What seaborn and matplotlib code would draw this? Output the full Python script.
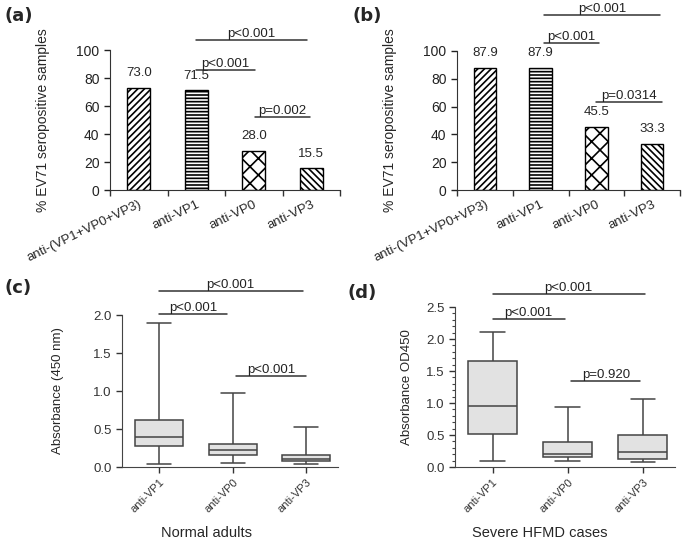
import pandas as pd
import matplotlib
matplotlib.use("Agg")
import matplotlib.pyplot as plt
from matplotlib.ticker import AutoMinorLocator, FixedLocator
import seaborn as sns

# bar panels (a) and (b)
bar_groups = ["anti-(VP1+VP0+VP3)", "anti-VP1", "anti-VP0", "anti-VP3"]
pct_a = [73.0, 71.5, 28.0, 15.5]
pct_b = [87.9, 87.9, 45.5, 33.3]

# box panels (c) and (d): min, q1, median, q3, max
box_groups = ["anti-VP1", "anti-VP0", "anti-VP3"]
adults_vp1 = [0.04, 0.27, 0.40, 0.62, 1.89]
adults_vp0 = [0.05, 0.16, 0.23, 0.30, 0.98]
adults_vp3 = [0.04, 0.08, 0.11, 0.16, 0.53]
severe_vp1 = [0.094, 0.515, 0.96, 1.66, 2.11]
severe_vp0 = [0.09, 0.15, 0.20, 0.386, 0.93]
severe_vp3 = [0.073, 0.13, 0.23, 0.495, 1.07]

sns.set_style("ticks")
plt.rcParams["font.family"] = ["Liberation Sans", "DejaVu Sans"]
plt.rcParams["hatch.linewidth"] = 1.2

fig = plt.figure(figsize=(6.85, 5.44), dpi=100)
W, H = 685, 544


def px_axes(left, right, top, bottom):
    return fig.add_axes([left / W, 1 - bottom / H, (right - left) / W, (bottom - top) / H])


def bracket(ax, x0, x1, y, label):
    ax.plot([x0, x1], [y, y], color="#333333", lw=1.1, clip_on=False)
    ax.text((x0 + x1) / 2, y, label, ha="center", va="bottom", fontsize=9.5,
            color="#222222", clip_on=False)


hatches = ["/////", "-----", "xx", "\\\\\\\\\\"]


def bar_panel(ax, values):
    df = pd.DataFrame({"group": bar_groups, "pct": values})
    sns.barplot(data=df, x="group", y="pct", color="white", edgecolor="black",
                linewidth=1.0, width=0.4, saturation=1, ax=ax)
    for p, h in zip(ax.patches, hatches):
        p.set_hatch(h)
    ax.bar_label(ax.containers[0], fmt="%.1f", padding=6, fontsize=9.5)
    ax.set_ylim(0, 100)
    ax.set_xlim(-0.5, 3.5)
    ax.set_yticks([0, 20, 40, 60, 80, 100])
    ax.tick_params(axis="y", labelsize=10, length=4, width=1, colors="#222222")
    ax.tick_params(axis="x", which="major", length=0, labelsize=9.5, pad=6)
    ax.xaxis.set_minor_locator(FixedLocator([-0.5, 0.5, 1.5, 2.5, 3.5]))
    ax.tick_params(axis="x", which="minor", length=4, width=1, color="#333333")
    for lab in ax.get_xticklabels():
        lab.set_rotation(26)
        lab.set_ha("right")
        lab.set_rotation_mode("anchor")
    ax.set_xlabel("")
    ax.set_ylabel("% EV71 seropositive samples", fontsize=10)
    for s in ["left", "bottom"]:
        ax.spines[s].set_color("#333333")
    sns.despine(ax=ax)


def box_panel(ax, stats, ymax):
    rows = []
    for g, vals in zip(box_groups, stats):
        for v in vals:
            rows.append({"group": g, "value": v})
    df = pd.DataFrame(rows)
    sns.boxplot(data=df, x="group", y="value", whis=(0, 100), width=0.65,
                color="#e2e2e2", linecolor="#444444", linewidth=1.1,
                saturation=1, fliersize=0, ax=ax)
    ax.set_ylim(0, ymax)
    ax.set_xlim(-0.5, 2.43)
    ax.tick_params(axis="y", labelsize=9.5, length=4, width=1, colors="#333333")
    ax.tick_params(axis="x", labelsize=8, length=4, width=1, colors="#333333")
    for lab in ax.get_xticklabels():
        lab.set_rotation(45)
        lab.set_ha("right")
        lab.set_rotation_mode("anchor")
    for s in ["left", "bottom"]:
        ax.spines[s].set_color("#444444")
    sns.despine(ax=ax)


# (a)
ax_a = px_axes(110, 340, 50, 190)
bar_panel(ax_a, pct_a)
ax_a.yaxis.set_label_coords(-0.26, 0.5)
bracket(ax_a, 1.0, 2.93, 107, "p<0.001")
bracket(ax_a, 1.0, 2.02, 86, "p<0.001")
bracket(ax_a, 2.02, 2.98, 52, "p=0.002")

# (b)
ax_b = px_axes(457, 680, 51, 190)
bar_panel(ax_b, pct_b)
ax_b.yaxis.set_label_coords(-0.27, 0.5)
bracket(ax_b, 1.06, 3.15, 126, "p<0.001")
bracket(ax_b, 1.06, 2.05, 106, "p<0.001")
bracket(ax_b, 2.0, 3.18, 63, "p=0.0314")

# (c)
ax_c = px_axes(122, 338, 315, 467)
box_panel(ax_c, [adults_vp1, adults_vp0, adults_vp3], 2.0)
ax_c.set_yticks([0.0, 0.5, 1.0, 1.5, 2.0])
ax_c.set_yticklabels(["0.0", "0.5", "1.0", "1.5", "2.0"])
ax_c.set_ylabel("Absorbance (450 nm)", fontsize=9.5)
ax_c.yaxis.set_label_coords(-0.27, 0.5)
ax_c.set_xlabel("Normal adults", fontsize=10.5)
ax_c.xaxis.set_label_coords(0.39, -0.385)
bracket(ax_c, 0.0, 1.95, 2.32, "p<0.001")
bracket(ax_c, 0.0, 0.93, 2.01, "p<0.001")
bracket(ax_c, 1.05, 2.0, 1.2, "p<0.001")

# (d)
ax_d = px_axes(455, 675, 307, 467)
box_panel(ax_d, [severe_vp1, severe_vp0, severe_vp3], 2.5)
ax_d.set_yticks([0.0, 0.5, 1.0, 1.5, 2.0, 2.5])
ax_d.set_yticklabels(["0.0", "0.5", "1.0", "1.5", "2.0", "2.5"])
ax_d.yaxis.set_minor_locator(AutoMinorLocator(5))
ax_d.tick_params(axis="y", which="minor", length=2, width=0.8, color="#444444")
ax_d.set_ylabel("Absorbance OD450", fontsize=9.5)
ax_d.yaxis.set_label_coords(-0.19, 0.5)
ax_d.set_xlabel("Severe HFMD cases", fontsize=10.5)
ax_d.xaxis.set_label_coords(0.386, -0.37)
bracket(ax_d, 0.0, 2.03, 2.70, "p<0.001")
bracket(ax_d, 0.0, 0.96, 2.31, "p<0.001")
bracket(ax_d, 1.05, 1.97, 1.34, "p=0.920")

# panel letters
for x, y, t in [(5, 16, "(a)"), (352, 16, "(b)"), (5, 288, "(c)"), (348, 293, "(d)")]:
    fig.text(x / W, 1 - y / H, t, fontsize=13, fontweight="bold",
             family="DejaVu Sans", va="center", ha="left")

fig.savefig("out.png", dpi=100)
